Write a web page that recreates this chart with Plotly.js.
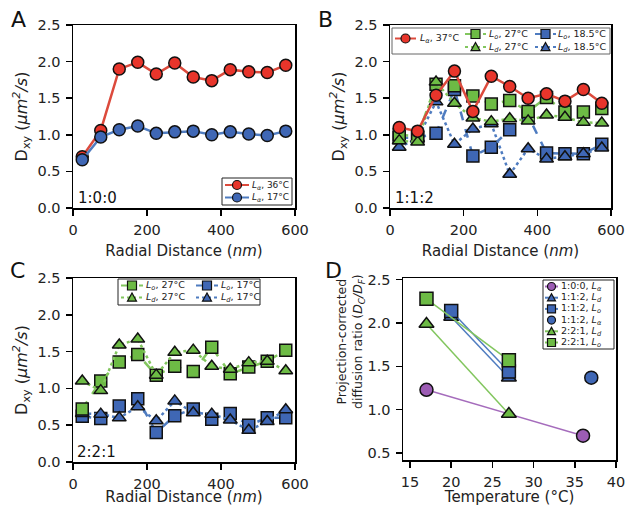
<!DOCTYPE html>
<html><head><meta charset="utf-8">
<script src="https://cdn.plot.ly/plotly-3.0.1.min.js"></script>
<style>body{margin:0;background:#fff}#c{width:626px;height:506px}</style>
</head><body><div id="c"></div>
<script>
// ---- data ----
const radial = [25, 75, 125, 175, 225, 275, 325, 375, 425, 475, 525, 575];
// Panel A (1:0:0)
const A_La36 = [0.70, 1.06, 1.90, 1.99, 1.83, 1.98, 1.79, 1.74, 1.89, 1.86, 1.85, 1.95];
const A_La17 = [0.66, 0.97, 1.07, 1.12, 1.02, 1.04, 1.05, 1.00, 1.04, 1.01, 0.99, 1.05];
// Panel B (1:1:2)
const B_La37 = [1.10, 1.05, 1.54, 1.87, 1.32, 1.80, 1.66, 1.50, 1.56, 1.46, 1.62, 1.43];
const B_Lo27 = [1.00, 0.98, 1.69, 1.67, 1.53, 1.42, 1.47, 1.32, 1.51, 1.31, 1.31, 1.36];
const B_Ld27 = [0.92, 0.90, 1.72, 1.43, 1.23, 1.18, 1.22, 1.19, 1.27, 1.24, 1.17, 1.16];
const B_Lo185 = [0.96, 0.96, 1.02, 1.62, 0.71, 0.83, 1.07, 1.26, 0.75, 0.74, 0.74, 0.87];
const B_Ld185 = [0.83, 0.95, 1.45, 0.87, 1.08, 1.15, 0.46, 0.81, 0.67, 0.70, 0.74, 0.82];
// Panel C (2:2:1)
const C_Lo27 = [0.72, 1.10, 1.36, 1.46, 1.18, 1.30, 1.23, 1.56, 1.20, 1.29, 1.37, 1.52];
const C_Ld27 = [1.10, 0.97, 1.59, 1.67, 1.18, 1.49, 1.52, 1.30, 1.26, 1.35, 1.37, 1.24];
const C_Lo17 = [0.62, 0.59, 0.76, 0.86, 0.40, 0.63, 0.72, 0.58, 0.66, 0.50, 0.60, 0.60];
const C_Ld17 = [0.66, 0.65, 0.60, 0.75, 0.56, 0.83, 0.67, 0.65, 0.57, 0.43, 0.55, 0.71];
// Panel D
const D_100La_T = [17, 36], D_100La = [1.23, 0.70];
const D_112Ld_T = [20, 27], D_112Ld = [2.07, 1.37];
const D_112Lo_T = [20, 27], D_112Lo = [2.14, 1.44];
const D_112La_T = [37], D_112La = [1.37];
const D_221Ld_T = [17, 27], D_221Ld = [1.99, 0.95];
const D_221Lo_T = [17, 27], D_221Lo = [2.28, 1.57];
const yTicks = [0.0, 0.5, 1.0, 1.5, 2.0, 2.5];
const xTicksR = [0, 200, 400, 600];
const xTicksT = [15, 20, 25, 30, 35, 40];
const yTicksD = [0.5, 1.0, 1.5, 2.0, 2.5];

// ---- styles ----
const RED = '#e8352b', REDL = '#dc4a3c';
const BLUE = '#3f67b5', BLUEL = '#4f7cc0';
const GREEN = '#6dbb45', GREENL = '#82c65e';
const PURP = '#9c5cb4', PURPL = '#a56cbc';
const F = 'DejaVu Sans, sans-serif';
const ML = {color: '#111', width: 1.5};

function tr(x, y, ax, sym, fill, lcol, dash, opts) {
  return Object.assign({
    type: 'scatter', mode: 'lines+markers', x: x, y: y, xaxis: 'x' + ax, yaxis: 'y' + ax,
    showlegend: false, hoverinfo: 'skip',
    marker: {symbol: sym, size: 12, color: fill, line: ML},
    line: {color: lcol, width: 2.5, dash: dash}
  }, opts || {});
}
const dOpt = (sym, fill, lcol) => ({line: {color: lcol, width: 1.5}, marker: {symbol: sym, size: 13, color: fill, line: ML}});

const data = [
  tr(radial, A_La36, '', 'circle', RED, REDL, 'solid'),
  tr(radial, A_La17, '', 'circle', BLUE, BLUEL, 'solid'),
  tr(radial, B_Lo185, '2', 'square', BLUE, BLUEL, 'dash'),
  tr(radial, B_Ld185, '2', 'triangle-up', BLUE, BLUEL, 'dot'),
  tr(radial, B_Lo27, '2', 'square', GREEN, GREENL, 'dash'),
  tr(radial, B_Ld27, '2', 'triangle-up', GREEN, GREENL, 'dot'),
  tr(radial, B_La37, '2', 'circle', RED, REDL, 'solid'),
  tr(radial, C_Lo17, '3', 'square', BLUE, BLUEL, 'dash'),
  tr(radial, C_Ld17, '3', 'triangle-up', BLUE, BLUEL, 'dot'),
  tr(radial, C_Lo27, '3', 'square', GREEN, GREENL, 'dash'),
  tr(radial, C_Ld27, '3', 'triangle-up', GREEN, GREENL, 'dot'),
  tr(D_100La_T, D_100La, '4', 'circle', PURP, PURPL, 'solid', dOpt('circle', PURP, PURPL)),
  tr(D_112Ld_T, D_112Ld, '4', 'triangle-up', BLUE, BLUEL, 'solid', dOpt('triangle-up', BLUE, BLUEL)),
  tr(D_112Lo_T, D_112Lo, '4', 'square', BLUE, BLUEL, 'solid', dOpt('square', BLUE, BLUEL)),
  tr(D_112La_T, D_112La, '4', 'circle', BLUE, BLUEL, 'solid', Object.assign(dOpt('circle', BLUE, BLUEL), {mode: 'markers'})),
  tr(D_221Ld_T, D_221Ld, '4', 'triangle-up', GREEN, GREENL, 'solid', dOpt('triangle-up', GREEN, GREENL)),
  tr(D_221Lo_T, D_221Lo, '4', 'square', GREEN, GREENL, 'solid', dOpt('square', GREEN, GREENL))
];

function ax(domain, range, ticks, title, fmt, anchor, tsize, stand) {
  return {
    domain: domain, range: range, anchor: anchor, tickvals: ticks, tickformat: fmt,
    showline: true, mirror: true, linecolor: '#000', linewidth: 1.5,
    ticks: 'outside', ticklen: 6, tickwidth: 1.5, tickcolor: '#000', ticklabelstandoff: 2,
    showgrid: false, zeroline: false, automargin: false,
    tickfont: {family: F, size: 14.5, color: '#222'},
    title: {text: title, font: {family: F, size: tsize || 15, color: '#222'}, standoff: stand || 6}
  };
}
const xt = 'Radial Distance (<i>nm</i>)';
const yt = 'D<sub>xy</sub> (<i>μm<sup>2</sup>/s</i>)';
const dxA = [73/626, 295/626], dxB = [390/626, 611/626], dxD = [403/626, 616/626];
const dyTop = [1 - 208/506, 1 - 25/506], dyBot = [1 - 462/506, 1 - 278/506], dyD = [1 - 460/506, 1 - 278/506];

// ---- hand-built legends (paper pixel positions) ----
const P = x => x / 626, Q = y => 1 - y / 506;
const shapes = [], annotations = [];
function box(x0, x1, y0, y1, col) {
  shapes.push({type: 'rect', xref: 'paper', yref: 'paper', layer: 'above', x0: P(x0), x1: P(x1), y0: Q(y1), y1: Q(y0),
    fillcolor: '#fff', line: {color: col || '#222', width: 1}});
}
function key(sym, fill, lcol, dash, lx0, lx1, cx, cy, s, tx, label, fs) {
  if (dash) shapes.push({type: 'line', xref: 'paper', yref: 'paper', layer: 'above', x0: P(lx0), x1: P(lx1), y0: Q(cy), y1: Q(cy),
    line: {color: lcol, width: 2, dash: dash}});
  const m = {xref: 'paper', yref: 'paper', layer: 'above', fillcolor: fill, line: {color: '#111', width: 1.2}};
  if (sym === 'circle' || sym === 'square') {
    shapes.push(Object.assign({type: sym === 'circle' ? 'circle' : 'rect', x0: P(cx - s/2), x1: P(cx + s/2), y0: Q(cy + s/2), y1: Q(cy - s/2)}, m));
  } else {
    const h = s * 0.9;
    shapes.push(Object.assign({type: 'path', path: 'M ' + P(cx - s/2) + ',' + Q(cy + h*0.45) + ' L ' + P(cx + s/2) + ',' + Q(cy + h*0.45) +
      ' L ' + P(cx) + ',' + Q(cy - h*0.55) + ' Z'}, m));
  }
  annotations.push({xref: 'paper', yref: 'paper', x: P(tx), y: Q(cy), xanchor: 'left', yanchor: 'middle', showarrow: false,
    text: label, font: {family: F, size: fs, color: '#222'}});
}
const Lb = (s, t) => '<i>L<sub>' + s + '</sub></i>, ' + t;
// A
box(222, 292, 178, 205);
key('circle', RED, REDL, 'solid', 225, 249, 237, 185, 9, 250, Lb('α', '36°C'), 9);
key('circle', BLUE, BLUEL, 'solid', 225, 249, 237, 197.5, 9, 250, Lb('α', '17°C'), 9);
// B
box(392, 610, 28, 54, '#666');
key('circle', RED, REDL, 'solid', 395, 416, 405.5, 38.5, 9, 418, Lb('α', '37°C'), 9.5);
key('square', GREEN, GREENL, 'dash', 465, 486, 475.5, 34, 9, 487, Lb('o', '27°C'), 9.5);
key('square', BLUE, BLUEL, 'dash', 535, 556, 545.5, 34, 9, 556, Lb('o', '18.5°C'), 9.5);
key('triangle', GREEN, GREENL, 'dot', 465, 486, 475.5, 47, 9, 487, Lb('d', '27°C'), 9.5);
key('triangle', BLUE, BLUEL, 'dot', 535, 556, 545.5, 47, 9, 556, Lb('d', '18.5°C'), 9.5);
// C
box(118, 260, 279, 305);
key('square', GREEN, GREENL, 'dash', 121, 143, 132, 285.5, 9, 144, Lb('o', '27°C'), 9.5);
key('square', BLUE, BLUEL, 'dash', 196, 218, 207, 285.5, 9, 219, Lb('o', '17°C'), 9.5);
key('triangle', GREEN, GREENL, 'dot', 121, 143, 132, 297.5, 9, 144, Lb('d', '27°C'), 9.5);
key('triangle', BLUE, BLUEL, 'dot', 196, 218, 207, 297.5, 9, 219, Lb('d', '17°C'), 9.5);
// D
box(543, 614, 280, 349);
const dy0 = 286.5, dstep = 11.2;
key('circle', PURP, PURPL, 'solid', 545, 558, 551.5, dy0, 8, 559, '1:0:0, <i>L<sub>α</sub></i>', 9.5);
key('triangle', BLUE, BLUEL, 'solid', 545, 558, 551.5, dy0 + dstep, 8, 559, '1:1:2, <i>L<sub>d</sub></i>', 9.5);
key('square', BLUE, BLUEL, 'solid', 545, 558, 551.5, dy0 + 2*dstep, 8, 559, '1:1:2, <i>L<sub>o</sub></i>', 9.5);
key('circle', BLUE, BLUEL, null, 545, 558, 551.5, dy0 + 3*dstep, 8, 559, '1:1:2, <i>L<sub>α</sub></i>', 9.5);
key('triangle', GREEN, GREENL, 'solid', 545, 558, 551.5, dy0 + 4*dstep, 8, 559, '2:2:1, <i>L<sub>d</sub></i>', 9.5);
key('square', GREEN, GREENL, 'solid', 545, 558, 551.5, dy0 + 5*dstep, 8, 559, '2:2:1, <i>L<sub>o</sub></i>', 9.5);

const ann = (x, y, t, size, xa) => ({xref: 'paper', yref: 'paper', x: P(x), y: Q(y), text: t,
  showarrow: false, xanchor: xa || 'center', yanchor: 'middle', font: {family: F, size: size, color: '#111'}});
annotations.push(ann(18, 19, 'A', 22), ann(325, 19, 'B', 22), ann(17, 270, 'C', 22), ann(333, 270, 'D', 22),
  ann(76, 198, '1:0:0', 15, 'left'), ann(393, 198, '1:1:2', 15, 'left'), ann(75, 452, '2:2:1', 15, 'left'));
// panel D y title (placed as in the reference)
annotations.push({xref: 'paper', yref: 'paper', x: P(350), y: Q(342), textangle: -90, showarrow: false,
  xanchor: 'center', yanchor: 'middle', align: 'center',
  text: 'Projection-corrected<br>diffusion ratio (<i>D<sub>C</sub>/D<sub>F</sub></i>)', font: {family: F, size: 12.5, color: '#222'}});

const layout = {
  width: 626, height: 506, margin: {l: 0, r: 0, t: 0, b: 0},
  paper_bgcolor: '#fff', plot_bgcolor: '#fff', showlegend: false,
  xaxis: ax(dxA, [0, 600], xTicksR, xt, 'd', 'y', 15, 8),
  yaxis: ax(dyTop, [0, 2.5], yTicks, yt, '.1f', 'x', 16, 6),
  xaxis2: ax(dxB, [0, 600], xTicksR, xt, 'd', 'y2', 15, 8),
  yaxis2: ax(dyTop, [0, 2.5], yTicks, yt, '.1f', 'x2', 16, 6),
  xaxis3: ax(dxA, [0, 600], xTicksR, xt, 'd', 'y3', 15, 8),
  yaxis3: ax(dyBot, [0, 2.5], yTicks, yt, '.1f', 'x3', 16, 6),
  xaxis4: ax(dxD, [14.15, 40], xTicksT, 'Temperature (°C)', 'd', 'y4', 15, 8),
  yaxis4: ax(dyD, [0.42, 2.52], yTicksD, '', '.1f', 'x4'),
  shapes: shapes,
  annotations: annotations
};
Plotly.newPlot('c', data, layout, {staticPlot: true});
</script></body></html>
